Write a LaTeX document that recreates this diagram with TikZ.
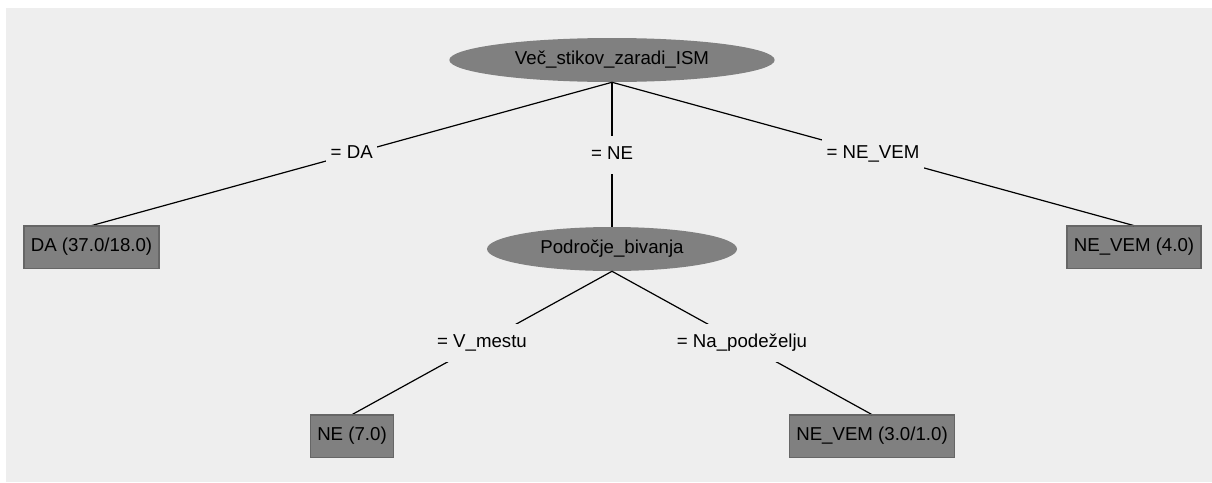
\documentclass[tikz,border=0pt]{standalone}
\usepackage{fontspec}
\setmainfont{Liberation Sans}
\usepackage{xcolor}
\definecolor{panelcolor}{gray}{0.933}
\definecolor{nodefillcolor}{gray}{0.5}
\colorlet{leafbordercolor}{black!60}
\usetikzlibrary{
  shapes.geometric,
}
\tikzstyle{basicnode}=[fill=nodefillcolor, inner sep=0pt, font=\fontsize{14}{16}\selectfont]
\tikzstyle{splitnode}=[basicnode, ellipse, minimum height=33pt]
\tikzstyle{leafnode}=[basicnode, rectangle, draw=leafbordercolor, line width=0.6pt, inner xsep=5pt, minimum height=31.5pt]
\tikzstyle{edgelabel}=[fill=panelcolor, font=\fontsize{14}{16}\selectfont, text height=10.5pt, text depth=3pt, inner xsep=3.5pt, inner ysep=7.5pt]
\tikzstyle{branch}=[line width=0.9pt]

\begin{document}
\begin{tikzpicture}[x=0.75pt, y=-0.75pt]
	\useasboundingbox (0,0) rectangle (1212,482);
	\fill [panelcolor] (6,8) rectangle (1212,482);
	\node (root) [splitnode, minimum width=244pt] at (612,60) {Več\_stikov\_zaradi\_ISM};
	\path (root) + (-520.5,187) node (leafDA) [leafnode] {DA (37.0/18.0)};
	\path (root) + (522,187) node (leafNEVEM) [leafnode] {NE\_VEM (4.0)};
	\path (root) + (0,189) node (bivanje) [splitnode, minimum width=187.5pt] {Področje\_bivanja};
	\path (bivanje) + (-260,187) node (leafNE) [leafnode] {NE (7.0)};
	\path (bivanje) + (260,187) node (leafPodezelje) [leafnode] {NE\_VEM (3.0/1.0)};
	\draw [branch] (root.south) -- node [edgelabel] {= DA} (leafDA.north);
	\draw [branch] (root.south) -- node [edgelabel] {= NE} (bivanje.north);
	\draw [branch] (root.south) -- node [edgelabel] {= NE\_VEM} (leafNEVEM.north);
	\draw [branch] (bivanje.south) -- node [edgelabel] {= V\_mestu} (leafNE.north);
	\draw [branch] (bivanje.south) -- node [edgelabel] {= Na\_podeželju} (leafPodezelje.north);
	% nodes again on top of the line ends
	\foreach \n in {leafDA, leafNEVEM, leafNE, leafPodezelje}
		\draw [leafbordercolor, line width=0.6pt] (\n.south west) rectangle (\n.north east);
\end{tikzpicture}
\end{document}
